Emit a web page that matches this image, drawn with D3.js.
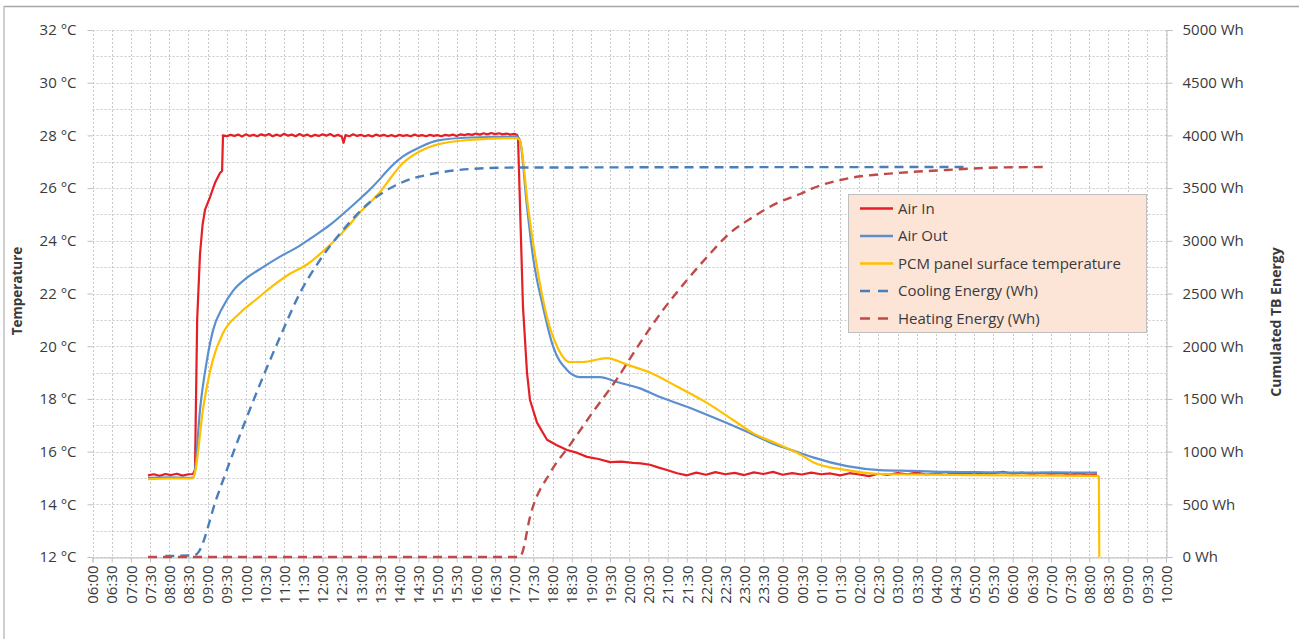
<!DOCTYPE html>
<html><head><meta charset="utf-8">
<script src="https://cdn.jsdelivr.net/npm/d3@7"></script>
<style>body{margin:0;background:#fff;} text{font-family:"Open Sans",sans-serif;fill:#3a3a3a;}</style>
</head><body>
<script>
// ---- DATA (time = hours after 06:00 of day 1) ----
const timeLabels = ["06:00","06:30","07:00","07:30","08:00","08:30","09:00","09:30","10:00","10:30","11:00","11:30","12:00","12:30","13:00","13:30","14:00","14:30","15:00","15:30","16:00","16:30","17:00","17:30","18:00","18:30","19:00","19:30","20:00","20:30","21:00","21:30","22:00","22:30","23:00","23:30","00:00","00:30","01:00","01:30","02:00","02:30","03:00","03:30","04:00","04:30","05:00","05:30","06:00","06:30","07:00","07:30","08:00","08:30","09:00","09:30","10:00"];
const tempTicks = [12,14,16,18,20,22,24,26,28,30,32];
const tempTickLabels = ["12 °C","14 °C","16 °C","18 °C","20 °C","22 °C","24 °C","26 °C","28 °C","30 °C","32 °C"];
const energyTicks = [0,500,1000,1500,2000,2500,3000,3500,4000,4500,5000];
const energyTickLabels = ["0 Wh","500 Wh","1000 Wh","1500 Wh","2000 Wh","2500 Wh","3000 Wh","3500 Wh","4000 Wh","4500 Wh","5000 Wh"];
const seriesNames = ["Air In","Air Out","PCM panel surface temperature","Cooling Energy (Wh)","Heating Energy (Wh)"];

const airIn = [[1.448,15.10],[1.6,15.14],[1.75,15.08],[1.9,15.15],[2.05,15.11],[2.2,15.16],[2.35,15.09],[2.5,15.14],[2.621,15.15],[2.673,15.3],[2.73,21.0],[2.804,23.5],[2.87,24.6],[2.934,25.17],[3.065,25.66],[3.195,26.2],[3.325,26.57],[3.38,26.65],[3.404,28.0],
[3.50,27.97],[3.60,28.02],[3.70,27.98],[3.80,28.03],[3.90,27.96],[4.00,28.04],[4.10,27.98],[4.20,28.02],[4.30,27.97],[4.40,28.04],[4.50,27.99],[4.60,28.05],[4.70,27.97],[4.80,28.03],[4.90,27.98],[5.00,28.06],[5.10,27.99],[5.20,28.03],[5.30,27.97],[5.40,28.05],[5.50,27.98],[5.60,28.03],[5.70,27.96],[5.80,28.02],[5.90,27.98],[6.00,28.04],[6.10,27.99],[6.20,28.05],[6.30,27.97],[6.40,28.02],[6.50,27.96],[6.55,27.72],[6.60,28.01],[6.70,27.97],[6.80,28.04],[6.90,27.98],[7.00,28.02],[7.10,27.97],[7.20,28.01],[7.30,27.96],[7.40,28.03],[7.50,27.98],[7.60,28.02],[7.70,27.97],[7.80,28.01],[7.90,27.96],[8.00,28.02],[8.10,27.98],[8.20,28.01],[8.30,27.97],[8.40,28.03],[8.50,27.98],[8.60,28.01],[8.70,27.97],[8.80,28.02],[8.90,27.98],[9.00,28.01],[9.10,27.97],[9.20,28.02],[9.30,27.99],[9.40,28.03],[9.50,27.98],[9.60,28.04],[9.70,28.01],[9.80,28.05],[9.90,28.02],[10.00,28.07],[10.10,28.03],[10.20,28.08],[10.30,28.04],[10.40,28.09],[10.50,28.05],[10.60,28.08],[10.70,28.04],[10.80,28.07],[10.90,28.03],[11.00,28.06],[11.07,28.02],[11.098,27.95],
[11.228,21.5],[11.333,19.0],[11.411,17.96],[11.594,17.1],[11.855,16.45],[12.1,16.25],[12.376,16.06],[12.65,15.95],[12.898,15.8],[13.2,15.72],[13.498,15.6],[13.8,15.62],[14.098,15.57],[14.3,15.55],[14.541,15.5],[14.75,15.4],[14.985,15.3],[15.25,15.18],[15.506,15.10],[15.75,15.20],[16.0,15.12],[16.25,15.22],[16.5,15.14],[16.75,15.19],[17.0,15.11],[17.25,15.21],[17.5,15.15],[17.75,15.23],[18.0,15.12],[18.25,15.18],[18.5,15.13],[18.75,15.20],[19.0,15.14],[19.25,15.17],[19.5,15.10],[19.75,15.18],[20.0,15.13],[20.25,15.07],[20.5,15.16],[20.75,15.12],[21.0,15.18],[21.25,15.14],[21.5,15.20],[21.75,15.13],[22.0,15.17],[22.25,15.12],[22.5,15.19],[22.75,15.15],[23.0,15.21],[23.25,15.14],[23.5,15.18],[23.75,15.23],[24.0,15.16],[24.25,15.20],[24.5,15.14],[24.75,15.19],[25.0,15.15],[25.25,15.18],[25.5,15.13],[25.75,15.17],[26.0,15.12],[26.2,15.15]];

const airOut = [[1.448,15.0],[2.0,15.02],[2.621,15.0],[2.673,15.3],[2.804,17.58],[2.986,19.48],[3.143,20.6],[3.404,21.5],[3.665,22.1],[4.03,22.6],[4.447,23.0],[4.891,23.4],[5.334,23.75],[5.751,24.15],[6.194,24.6],[6.638,25.15],[7.055,25.7],[7.238,25.95],[7.499,26.35],[7.681,26.65],[8.099,27.2],[8.542,27.55],[8.985,27.8],[9.846,27.92],[11.072,27.95],[11.15,27.8],[11.333,25.3],[11.489,23.4],[11.75,21.5],[12.011,20.0],[12.376,19.1],[12.715,18.83],[13.237,18.83],[13.68,18.64],[14.28,18.4],[14.802,18.07],[15.506,17.7],[16.185,17.3],[17.071,16.75],[17.75,16.3],[18.454,15.95],[18.793,15.78],[19.68,15.45],[20.54,15.3],[21.4,15.27],[22.288,15.23],[23.1,15.22],[24.01,15.2],[25.1,15.21],[26.2,15.2]];

const pcmSurface = [[1.448,14.95],[2.0,14.98],[2.621,14.98],[2.673,15.2],[2.882,17.6],[3.143,19.5],[3.404,20.5],[3.847,21.26],[4.291,21.8],[4.708,22.3],[5.151,22.75],[5.595,23.1],[5.934,23.5],[6.273,23.95],[6.638,24.5],[7.055,25.2],[7.238,25.45],[7.499,25.85],[7.681,26.2],[8.099,26.95],[8.542,27.4],[8.985,27.65],[9.846,27.83],[11.072,27.9],[11.15,27.8],[11.359,25.3],[11.594,23.0],[11.855,21.1],[12.115,20.0],[12.454,19.4],[12.793,19.4],[13.419,19.55],[13.941,19.3],[14.541,19.0],[15.245,18.47],[16.028,17.85],[16.706,17.2],[17.228,16.7],[17.854,16.3],[18.454,15.9],[18.793,15.6],[19.68,15.3],[20.54,15.15],[22.288,15.12],[24.01,15.1],[26.2,15.08],[26.25,15.05],[26.26,12.0]];

const coolingEnergy = [[1.9,10],[2.621,15],[2.726,30],[3.247,569],[3.925,1233],[4.552,1800],[4.891,2087],[5.412,2505],[5.934,2818],[6.534,3102],[7.238,3368],[8.099,3558],[8.985,3643],[9.846,3681],[11.072,3695],[22.836,3700]];

const heatingEnergy = [[1.448,0],[11.15,0],[11.2,30],[11.411,380],[11.933,797],[12.454,1064],[13.054,1376],[13.68,1690],[14.28,2030],[14.88,2343],[15.506,2628],[16.028,2846],[16.628,3074],[17.228,3226],[17.854,3358],[18.454,3444],[18.793,3500],[19.68,3590],[20.984,3643],[22.288,3672],[23.592,3695],[24.792,3700]];

// ---- STYLE ----
const colors = {airIn:"#E41F26", airOut:"#5B8FD0", pcm:"#FFC000", cooling:"#4A7EBB", heating:"#BE4B48"};
const W = 1299, H = 639;
const svg = d3.select("body").append("svg").attr("width",W).attr("height",H);
svg.append("rect").attr("width",W).attr("height",H).attr("fill","#fff");
svg.append("line").attr("x1",4).attr("x2",W).attr("y1",6.5).attr("y2",6.5).attr("stroke","#a6a6a6").attr("stroke-width",1.5);
svg.append("line").attr("x1",4).attr("x2",4).attr("y1",6).attr("y2",H).attr("stroke","#bfbfbf").attr("stroke-width",1.5);

const x = d3.scaleLinear().domain([0,28]).range([92.5,1166]);
const yT = d3.scaleLinear().domain([12,32]).range([557,30]);
const yE = d3.scaleLinear().domain([0,5000]).range([557,30]);
const xTicks = timeLabels.map((d,i)=>i*0.5);

// grid
const grid = svg.append("g").attr("stroke","#c9c9c9").attr("stroke-width",1).attr("stroke-dasharray","2,2");
d3.range(12,33,1).forEach(v=>{
  grid.append("line").attr("x1",x(0)).attr("x2",x(28)).attr("y1",Math.round(yT(v))+0.5).attr("y2",Math.round(yT(v))+0.5);
});
xTicks.forEach(t=>{
  grid.append("line").attr("x1",Math.round(x(t))+0.5).attr("x2",Math.round(x(t))+0.5).attr("y1",yT(32)).attr("y2",yT(12));
});

// bottom axis
const gx = svg.append("g").attr("transform",`translate(0,${Math.round(yT(12))+0.5})`)
  .call(d3.axisBottom(x).tickValues(xTicks).tickSize(5).tickFormat((d,i)=>timeLabels[i]));
gx.select(".domain").attr("stroke","#bfbfbf");
gx.selectAll(".tick line").attr("stroke","#bfbfbf");
gx.selectAll(".tick text").attr("transform","rotate(-90)").attr("text-anchor","end")
  .attr("x",-8).attr("y",0).attr("dy","0.35em").style("font-size","15px").style("font-family","Open Sans").attr("fill","#3a3a3a");

// left axis
const gl = svg.append("g").attr("transform",`translate(${x(0)},0)`)
  .call(d3.axisLeft(yT).tickValues(tempTicks).tickSize(5).tickFormat((d,i)=>tempTickLabels[i]));
gl.select(".domain").remove();
gl.selectAll(".tick line").attr("stroke","#bfbfbf");
gl.selectAll(".tick text").attr("x",-16).style("font-size","15px").style("font-family","Open Sans").attr("fill","#3a3a3a");

// right axis
const gr = svg.append("g").attr("transform",`translate(${Math.round(x(28))+0.5},0)`)
  .call(d3.axisRight(yE).tickValues(energyTicks).tickSize(6).tickFormat((d,i)=>energyTickLabels[i]));
gr.select(".domain").attr("stroke","#bfbfbf");
gr.selectAll(".tick line").attr("stroke","#bfbfbf");
gr.selectAll(".tick text").attr("x",16).style("font-size","15px").style("font-family","Open Sans").attr("fill","#3a3a3a");

// axis titles
svg.append("text").attr("transform","translate(22,291) rotate(-90)").attr("text-anchor","middle")
  .style("font-size","13.5px").style("font-weight","bold").attr("fill","#000").text("Temperature");
svg.append("text").attr("transform","translate(1281,322) rotate(-90)").attr("text-anchor","middle")
  .style("font-size","14px").style("font-weight","bold").attr("fill","#000").text("Cumulated TB Energy");

// lines
const lineT = d3.line().x(d=>x(d[0])).y(d=>yT(d[1]));
const lineTs = d3.line().curve(d3.curveMonotoneX).x(d=>x(d[0])).y(d=>yT(d[1]));
const lineE = d3.line().curve(d3.curveMonotoneX).x(d=>x(d[0])).y(d=>yE(d[1]));
const plot = svg.append("g").attr("fill","none").attr("stroke-linejoin","round");
plot.append("path").datum(airIn).attr("d",lineT).attr("stroke",colors.airIn).attr("stroke-width",2.2);
plot.append("path").datum(airOut).attr("d",lineTs).attr("stroke",colors.airOut).attr("stroke-width",2.2);
plot.append("path").datum(pcmSurface).attr("d",lineTs).attr("stroke",colors.pcm).attr("stroke-width",2.2);
plot.append("path").datum(coolingEnergy).attr("d",lineE).attr("stroke",colors.cooling).attr("stroke-width",2.4).attr("stroke-dasharray","9,6");
plot.append("path").datum(heatingEnergy).attr("d",lineE).attr("stroke",colors.heating).attr("stroke-width",2.4).attr("stroke-dasharray","9,6");

// legend
const lg = svg.append("g");
lg.append("rect").attr("x",848.5).attr("y",194.5).attr("width",298).attr("height",138).attr("fill","#FCE4D6").attr("stroke","#bfbfbf");
const legItems = [
  {name:seriesNames[0],c:colors.airIn,dash:null},
  {name:seriesNames[1],c:colors.airOut,dash:null},
  {name:seriesNames[2],c:colors.pcm,dash:null},
  {name:seriesNames[3],c:colors.cooling,dash:"10,8"},
  {name:seriesNames[4],c:colors.heating,dash:"10,8"}];
legItems.forEach((d,i)=>{
  const yy = 208.5 + i*27.5;
  const l = lg.append("line").attr("x1",860).attr("x2",893).attr("y1",yy).attr("y2",yy).attr("stroke",d.c).attr("stroke-width",2.4);
  if(d.dash) l.attr("stroke-dasharray",d.dash);
  lg.append("text").attr("x",898).attr("y",yy).attr("dy","0.35em").style("font-size","15px").attr("fill","#262626").text(d.name);
});
</script>
</body></html>
